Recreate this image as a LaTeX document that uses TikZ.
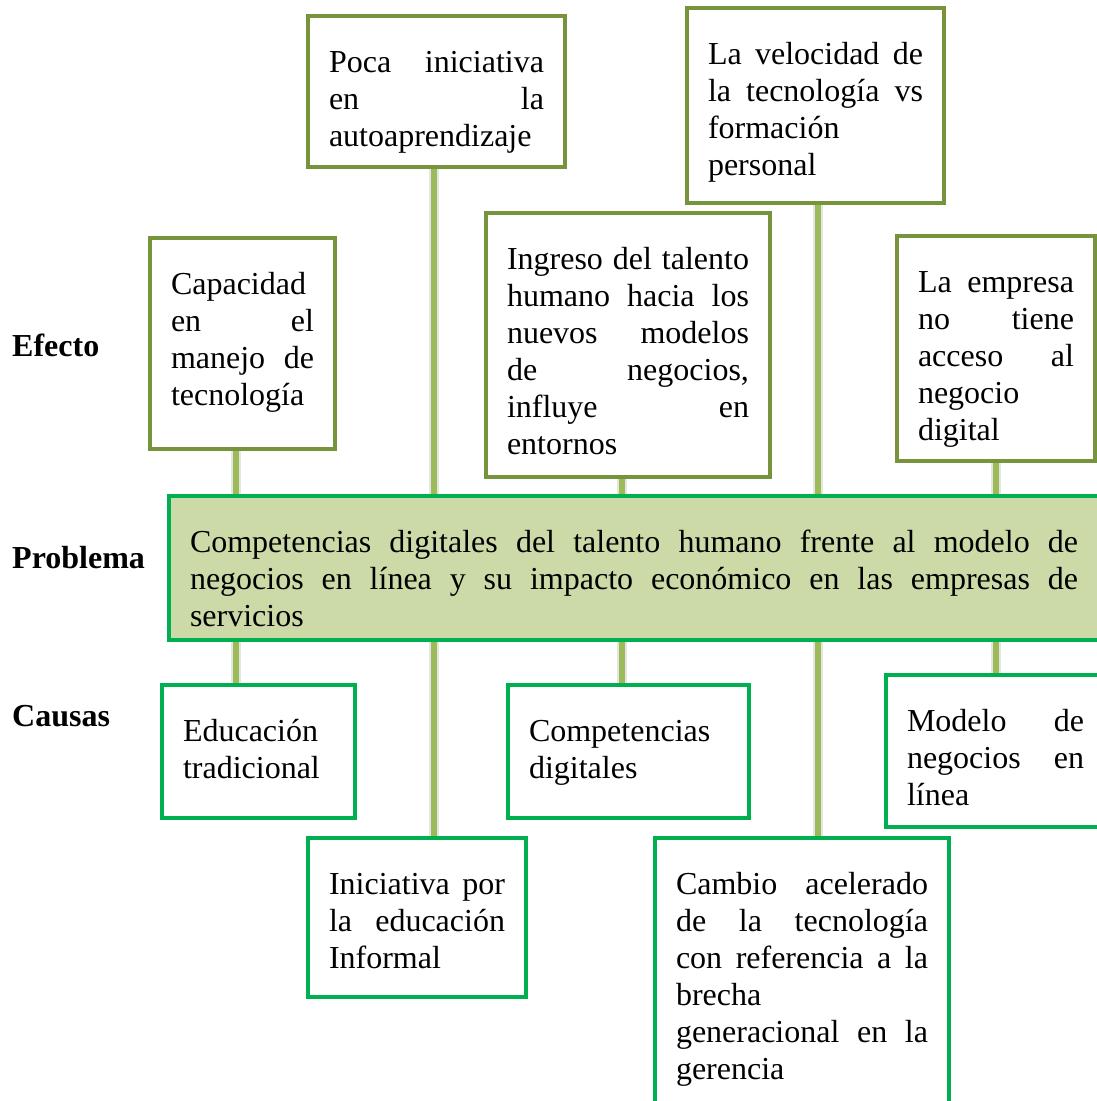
\documentclass[tikz,border=0pt]{standalone}
\usepackage{fontspec}
\setmainfont{Liberation Serif}
\usepackage{tikz}
\usetikzlibrary{positioning, backgrounds}
\usepackage{xcolor}

\definecolor{effgreen}{HTML}{77933C}
\definecolor{causegreen}{HTML}{00B050}
\definecolor{mainfill}{HTML}{CCDAA8}
\definecolor{linkgreen}{HTML}{9BBB59}

\hyphenpenalty=10000
\exhyphenpenalty=10000
\tolerance=10000

\begin{document}
\begin{tikzpicture}[
      x=1pt, y=-1pt,
      box_font/.style={font=\fontsize{32}{37}\selectfont},
      effect_block/.style={rectangle, draw=effgreen, line width=4pt, fill=white, anchor=north west, align=justify, inner xsep=21pt, inner ysep=28pt, text height=28pt, box_font},
      cause_block/.style={effect_block, draw=causegreen},
      problem_block/.style={effect_block, draw=causegreen, fill=mainfill},
      row_label/.style={anchor=base west, inner sep=0pt, font=\fontsize{32}{37}\selectfont\bfseries},
      link/.style={draw=linkgreen, line width=6pt, preaction={draw=black!10, line width=10pt}}
  ]
  \useasboundingbox (0,0) rectangle (1097,1101);

  % row labels
  \node [row_label] (efecto) at (12,356) {Efecto};
  \node [row_label] (problema) at (12,568) {Problema};
  \node [row_label] (causas) at (12,726) {Causas};

  % effects
  \node [effect_block, text width=143pt, text depth=127pt] (cap) at (148,236) {Capacidad\linebreak en el\linebreak manejo de\linebreak tecnología};
  \node [effect_block, text width=215pt, text depth=67pt] (poca) at (306,14) {Poca iniciativa\linebreak en la\linebreak autoaprendizaje};
  \node [effect_block, text width=242pt, text depth=180pt] (ingreso) at (484,211) {Ingreso del talento\linebreak humano hacia los\linebreak nuevos modelos\linebreak de negocios,\linebreak influye en\linebreak entornos};
  \node [effect_block, text width=215pt, text depth=111pt] (veloc) at (685,6) {La velocidad de\linebreak la tecnología vs\linebreak formación\linebreak personal};
  \node [effect_block, text width=156pt, text depth=141pt] (empresa) at (895,234) {La empresa\linebreak no tiene\linebreak acceso al\linebreak negocio\linebreak digital};

  % problem
  \node [problem_block, text width=888pt, text depth=60pt] (main) at (167,494) {Competencias digitales del talento humano frente al modelo de\linebreak negocios en línea y su impacto económico en las empresas de\linebreak servicios};

  % causes
  \node [cause_block, text width=151pt, text depth=49pt] (educ) at (160,683) {Educación\linebreak tradicional};
  \node [cause_block, text width=176pt, text depth=75pt] (inic) at (306,836) {Iniciativa por\linebreak la educación\linebreak Informal};
  \node [cause_block, text width=199pt, text depth=49pt] (compdig) at (506,683) {Competencias\linebreak digitales};
  \node [cause_block, text width=252pt, text depth=202pt] (cambio) at (653,836) {Cambio acelerado\linebreak de la tecnología\linebreak con referencia a la\linebreak brecha\linebreak generacional en la\linebreak gerencia};
  \node [cause_block, text width=177pt, text depth=68pt] (modelo) at (884,673) {Modelo de\linebreak negocios en\linebreak línea};

  \begin{scope}[on background layer]
    \path [link] (cap.south -| 236,0) -- (main.north -| 236,0);
    \path [link] (main.south -| 236,0) -- (educ.north -| 236,0);
    \path [link] (poca.south -| 433.5,0) -- (main.north -| 433.5,0);
    \path [link] (main.south -| 433.5,0) -- (inic.north -| 433.5,0);
    \path [link] (ingreso.south -| 622,0) -- (main.north -| 622,0);
    \path [link] (main.south -| 622,0) -- (compdig.north -| 622,0);
    \path [link] (veloc.south -| 818,0) -- (main.north -| 818,0);
    \path [link] (main.south -| 818,0) -- (cambio.north -| 818,0);
    \path [link] (empresa.south -| 996,0) -- (main.north -| 996,0);
    \path [link] (main.south -| 996,0) -- (modelo.north -| 996,0);
  \end{scope}

\end{tikzpicture}
\end{document}
